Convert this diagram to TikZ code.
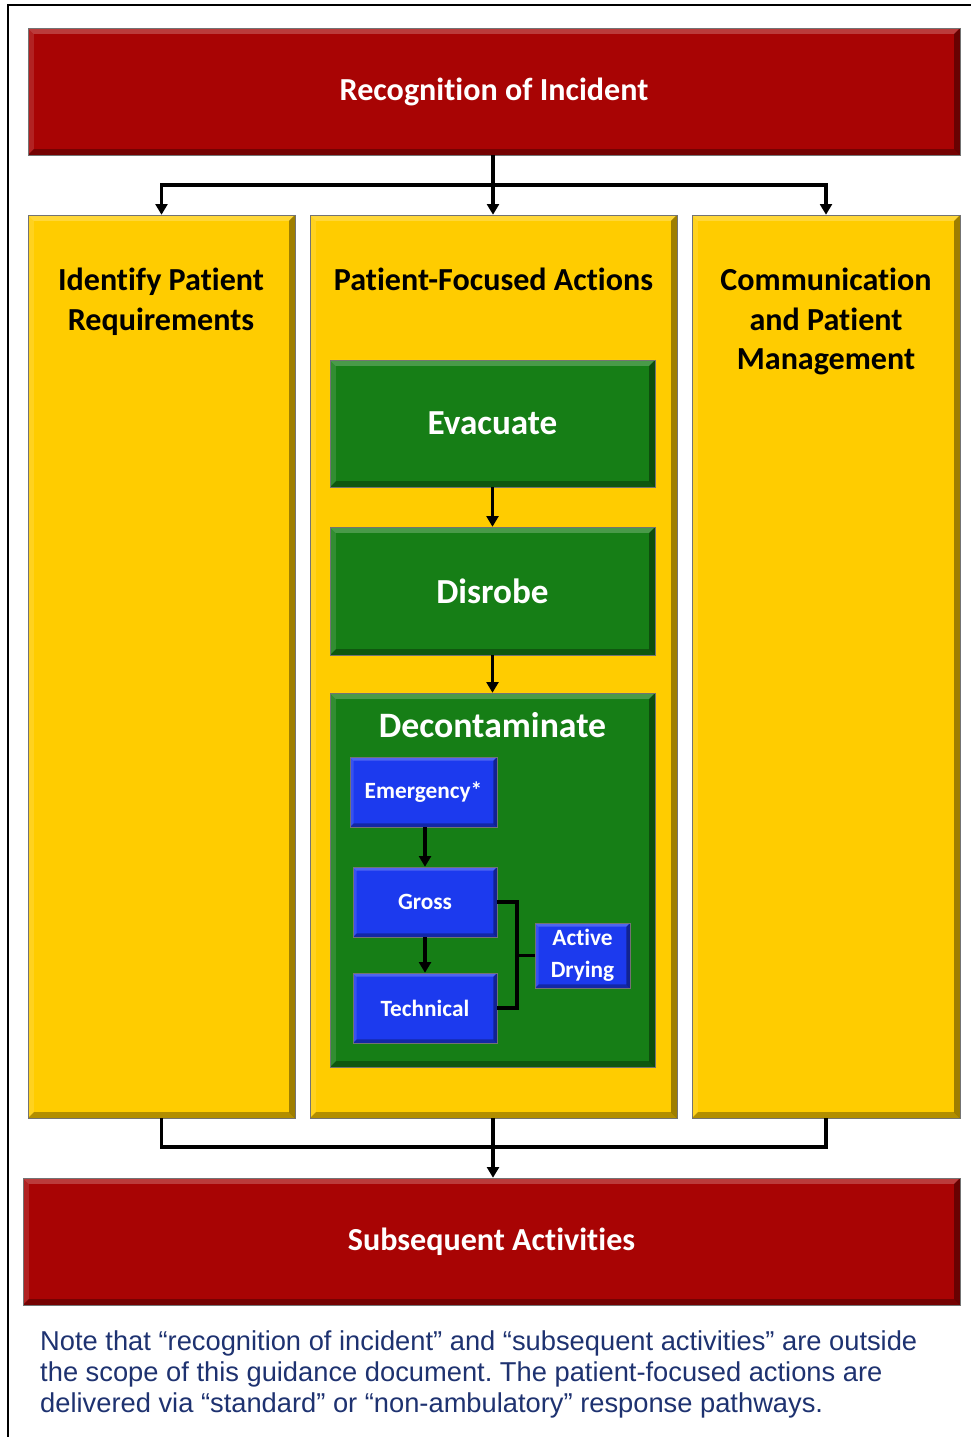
\documentclass[tikz,border=0pt]{standalone}
\usepackage{fontspec}
\setmainfont{Liberation Sans}
\newfontfamily\boxfont[Ligatures=NoCommon]{Carlito}
\usetikzlibrary{arrows.meta,calc}

\definecolor{incred}{RGB}{168,4,4}
\definecolor{colyellow}{RGB}{255,204,0}
\definecolor{actgreen}{RGB}{22,126,22}
\definecolor{stepblue}{RGB}{28,58,238}
\definecolor{notenavy}{RGB}{30,50,112}

\tikzset{
  bevel/.style={path picture={
    \fill[white,opacity=0.22] (path picture bounding box.north west) -- (path picture bounding box.north east)
      -- ([xshift=-#1,yshift=-#1]path picture bounding box.north east) -- ([xshift=#1,yshift=-#1]path picture bounding box.north west) -- cycle;
    \fill[white,opacity=0.12] (path picture bounding box.north west) -- (path picture bounding box.south west)
      -- ([xshift=#1,yshift=#1]path picture bounding box.south west) -- ([xshift=#1,yshift=-#1]path picture bounding box.north west) -- cycle;
    \fill[black,opacity=0.30] (path picture bounding box.south west) -- (path picture bounding box.south east)
      -- ([xshift=-#1,yshift=#1]path picture bounding box.south east) -- ([xshift=#1,yshift=#1]path picture bounding box.south west) -- cycle;
    \fill[black,opacity=0.38] (path picture bounding box.north east) -- (path picture bounding box.south east)
      -- ([xshift=-#1,yshift=#1]path picture bounding box.south east) -- ([xshift=-#1,yshift=-#1]path picture bounding box.north east) -- cycle;
  }},
  box/.style={rectangle, draw=black!55, thin, inner sep=0pt, align=center, font=\boxfont\bfseries},
  redbox/.style={box, fill=incred, bevel=5pt, text=white, minimum width=27.96cm, minimum height=3.81cm, font=\boxfont\bfseries\fontsize{27.4}{30}\selectfont},
  colbox/.style={box, fill=colyellow, bevel=5pt, minimum height=27.09cm},
  coltitle/.style={align=center, inner sep=0pt, font=\boxfont\bfseries\fontsize{27.4}{33.5}\selectfont},
  greenbox/.style={box, fill=actgreen, bevel=5pt, text=white, minimum width=9.75cm, font=\boxfont\bfseries\fontsize{30}{33}\selectfont},
  bluebox/.style={box, fill=stepblue, bevel=3pt, text=white, minimum height=2.1cm, font=\boxfont\bfseries\fontsize{19.9}{27}\selectfont},
  link/.style={line width=3pt, black},
  arr/.style={link, -{Triangle[length=9pt,width=10pt]}},
}

\begin{document}
\begin{tikzpicture}[x=0.03cm, y=-0.03cm]
\useasboundingbox (0,0) rectangle (971,1437);
\draw[line width=1.6pt] (8,1437) -- (8,5) -- (971,5);

\node[redbox] (recog) at (494,91.5) {Recognition of Incident};

\node[colbox, minimum width=8.01cm] (identify) at (161.5,666.5) {};
\node[colbox, minimum width=11.01cm] (focused) at (493.5,666.5) {};
\node[colbox, minimum width=8.04cm] (comms) at (826,666.5) {};

\node[coltitle, anchor=north] (identifyT) at (161,268) {Identify Patient\\Requirements};
\node[coltitle, anchor=north] (focusedT) at (493.5,268) {Patient-Focused Actions};
\node[coltitle, anchor=north] (commsT) at (826,268) {Communication\\and Patient\\Management};

\node[greenbox, minimum height=3.81cm] (evac) at (492.5,423.5) {Evacuate};
\node[greenbox, minimum height=3.84cm] (disrobe) at (492.5,591) {Disrobe};
\node[greenbox, minimum height=11.22cm] (decon) at (492.5,880) {};
\node[anchor=north, inner sep=0pt, text=white, font=\boxfont\bfseries\fontsize{30.5}{33}\selectfont] (deconT) at (492.5,712) {Decontaminate};

\node[bluebox, minimum width=4.41cm] (emerg) at (423.5,792) {Emergency*};
\node[bluebox, minimum width=4.32cm] (gross) at (425,902) {Gross};
\node[bluebox, minimum width=4.32cm] (tech) at (425,1008) {Technical};
\node[bluebox, minimum width=2.85cm, minimum height=1.95cm] (dry) at (582.5,955.5) {Active\\Drying};

\node[redbox, minimum width=28.11cm] (subseq) at (491.5,1241.5) {Subsequent Activities};

\node[anchor=north west, inner sep=0pt, align=left, text=notenavy, font=\frenchspacing\fontsize{23.3}{26.5}\selectfont] (note) at (40,1330)
  {Note that “recognition of incident” and “subsequent activities” are outside\\
   the scope of this guidance document. The patient-focused actions are\\
   delivered via “standard” or “non-ambulatory” response pathways.};

% connectors
\coordinate (topsplit) at (493,185);
\coordinate (botsplit) at (493,1147);
\coordinate (dryjoin) at (517,955.5);
\draw[link] (recog.south -| topsplit) -- (topsplit);
\draw[arr] (topsplit) -| (identify.north);
\draw[arr] (topsplit) -- (focused.north -| topsplit);
\draw[arr] (topsplit) -| (comms.north);
\draw[link] (identify.south) |- (botsplit) -| (comms.south);
\draw[arr] (focused.south -| botsplit) -- (subseq.north -| botsplit);
\draw[arr] (evac.south) -- (disrobe.north);
\draw[arr] (disrobe.south) -- (decon.north);
\draw[arr] (emerg.south -| gross.north) -- (gross.north);
\draw[arr] (gross.south) -- (tech.north);
\draw[link] (gross.east) -| (dryjoin) |- (tech.east);
\draw[link] (dryjoin) -- (dry.west);
\end{tikzpicture}
\end{document}
